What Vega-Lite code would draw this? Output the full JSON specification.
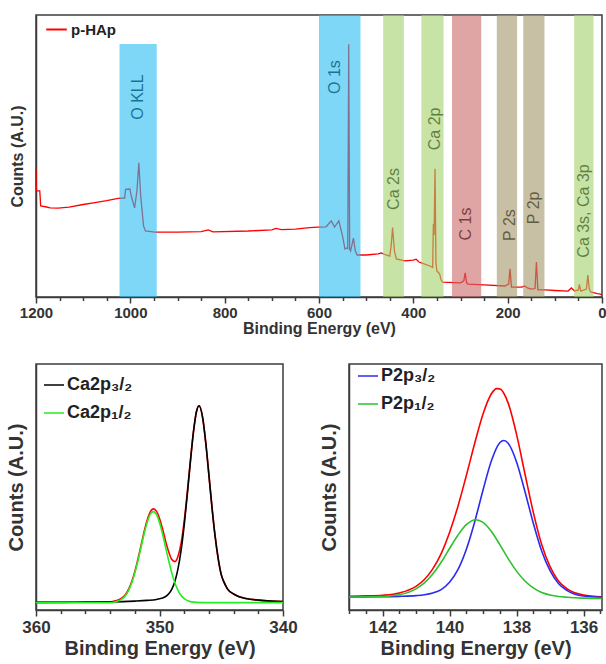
{
  "$schema": "https://vega.github.io/schema/vega-lite/v6.json",
  "background": "white",
  "padding": {"left": 5, "top": 14, "right": 0, "bottom": 0},
  "spacing": 26,
  "resolve": {"scale": {"stroke": "independent", "fill": "independent"}, "legend": {"stroke": "independent", "fill": "independent"}},
  "config": {
    "font": "Liberation Sans",
    "view": {"stroke": "#3c3c3c", "strokeWidth": 1.5},
    "axis": {
      "grid": false,
      "domainColor": "#3c3c3c",
      "domainWidth": 1.5,
      "tickColor": "#3c3c3c",
      "tickWidth": 1.5,
      "labelColor": "#333333",
      "titleColor": "#333333",
      "labelFont": "Liberation Sans",
      "titleFont": "Liberation Sans",
      "labelFontWeight": "bold",
      "titleFontWeight": "bold"
    }
  },
  "datasets": {
    "survey": [
      {"E": 1200, "I": 45.5}, {"E": 1199.5, "I": 38}, {"E": 1198, "I": 37.6}, {"E": 1192, "I": 37.6},
      {"E": 1190, "I": 32.3}, {"E": 1180, "I": 32.0}, {"E": 1170, "I": 31.6}, {"E": 1153, "I": 31.5},
      {"E": 1130, "I": 31.9}, {"E": 1100, "I": 32.8}, {"E": 1075, "I": 33.5}, {"E": 1050, "I": 34.2},
      {"E": 1026, "I": 35.0}, {"E": 1012, "I": 35.1}, {"E": 1010, "I": 38.2}, {"E": 1001, "I": 38.3},
      {"E": 998, "I": 35.8}, {"E": 991, "I": 31.6}, {"E": 986, "I": 37.6}, {"E": 982, "I": 47.6},
      {"E": 978, "I": 35.8}, {"E": 972, "I": 25.2}, {"E": 968, "I": 23.4}, {"E": 948, "I": 23.0},
      {"E": 900, "I": 23.0}, {"E": 850, "I": 23.2}, {"E": 835, "I": 23.8}, {"E": 825, "I": 23.1},
      {"E": 750, "I": 23.4}, {"E": 700, "I": 23.8}, {"E": 691, "I": 24.3}, {"E": 680, "I": 23.9},
      {"E": 650, "I": 24.1}, {"E": 620, "I": 24.6}, {"E": 602, "I": 24.8}, {"E": 585, "I": 24.9},
      {"E": 574, "I": 27.0}, {"E": 567, "I": 24.8}, {"E": 558, "I": 27.0}, {"E": 550, "I": 21.6},
      {"E": 545, "I": 17.0}, {"E": 541, "I": 17.4}, {"E": 539, "I": 17.2}, {"E": 537, "I": 89.6},
      {"E": 535, "I": 17.0}, {"E": 533, "I": 16.3}, {"E": 527, "I": 20.9}, {"E": 523, "I": 16.3},
      {"E": 519, "I": 14.9}, {"E": 500, "I": 14.9}, {"E": 475, "I": 15.3}, {"E": 468, "I": 15.6},
      {"E": 458, "I": 14.9}, {"E": 450, "I": 14.5}, {"E": 447, "I": 18.1}, {"E": 444, "I": 24.6},
      {"E": 440, "I": 16.3}, {"E": 436, "I": 13.5}, {"E": 418, "I": 12.8}, {"E": 400, "I": 13.1},
      {"E": 394, "I": 13.4}, {"E": 388, "I": 12.4}, {"E": 383, "I": 12.1}, {"E": 365, "I": 11.0},
      {"E": 359, "I": 10.5}, {"E": 357.5, "I": 26.0}, {"E": 356, "I": 22.0}, {"E": 354, "I": 45.5},
      {"E": 352, "I": 12.0}, {"E": 350, "I": 9.2}, {"E": 346, "I": 8.5}, {"E": 344, "I": 8.0},
      {"E": 341, "I": 6.0}, {"E": 338, "I": 5.3}, {"E": 300, "I": 5.0}, {"E": 293, "I": 5.7},
      {"E": 290, "I": 8.6}, {"E": 287, "I": 5.0}, {"E": 284, "I": 4.6}, {"E": 250, "I": 4.3},
      {"E": 206, "I": 3.9}, {"E": 198, "I": 4.6}, {"E": 195, "I": 10.0}, {"E": 192, "I": 3.5},
      {"E": 170, "I": 3.5}, {"E": 164, "I": 3.9}, {"E": 158, "I": 3.2}, {"E": 150, "I": 2.8},
      {"E": 142, "I": 3.0}, {"E": 139, "I": 12.4}, {"E": 136, "I": 2.5}, {"E": 120, "I": 2.5},
      {"E": 100, "I": 2.3}, {"E": 72, "I": 2.1}, {"E": 65, "I": 3.2}, {"E": 58, "I": 2.1},
      {"E": 50, "I": 2.5}, {"E": 48, "I": 4.5}, {"E": 45, "I": 2.1}, {"E": 33, "I": 2.8},
      {"E": 30, "I": 7.8}, {"E": 27, "I": 2.8}, {"E": 24, "I": 1.8}, {"E": 10, "I": 1.2},
      {"E": 5, "I": 1.1}, {"E": 0, "I": 0.7}
    ],
    "bands": [
      {"label": "O KLL", "g": "O", "x1": 1023, "x2": 944, "top": 89.7, "lx": 984, "ly": 70.9},
      {"label": "O 1s", "g": "O", "x1": 600, "x2": 512, "top": 100, "lx": 567, "ly": 78.0},
      {"label": "Ca 2s", "g": "Ca", "x1": 464, "x2": 420, "top": 100, "lx": 440, "ly": 38.3},
      {"label": "Ca 2p", "g": "Ca", "x1": 383, "x2": 336, "top": 100, "lx": 355, "ly": 59.6},
      {"label": "C 1s", "g": "C", "x1": 318, "x2": 256, "top": 100, "lx": 288, "ly": 25.9},
      {"label": "P 2s", "g": "P", "x1": 223, "x2": 180, "top": 100, "lx": 196, "ly": 25.5},
      {"label": "P 2p", "g": "P", "x1": 167, "x2": 122, "top": 100, "lx": 145, "ly": 31.6},
      {"label": "Ca 3s, Ca 3p", "g": "Ca", "x1": 59, "x2": 18, "top": 100, "lx": 38, "ly": 30.5}
    ],
    "ca_red": [
      {"x": 360, "y": 3.1}, {"x": 356, "y": 3.2}, {"x": 354, "y": 3.3}, {"x": 353.5, "y": 3.85},
      {"x": 353, "y": 5.0}, {"x": 352.75, "y": 6.35}, {"x": 352.5, "y": 8.5}, {"x": 352.25, "y": 11.5},
      {"x": 352, "y": 15.6}, {"x": 351.75, "y": 20.55}, {"x": 351.5, "y": 26.1}, {"x": 351.25, "y": 31.7},
      {"x": 351, "y": 36.5}, {"x": 350.75, "y": 39.9}, {"x": 350.5, "y": 41.1}, {"x": 350.25, "y": 40.2},
      {"x": 350, "y": 37.2}, {"x": 349.75, "y": 32.9}, {"x": 349.5, "y": 27.9}, {"x": 349.25, "y": 23.6},
      {"x": 349, "y": 20.5}, {"x": 348.75, "y": 19.65}, {"x": 348.5, "y": 21.8}, {"x": 348.25, "y": 27.2},
      {"x": 348, "y": 36.1}, {"x": 347.75, "y": 47.8}, {"x": 347.5, "y": 60.6}, {"x": 347.25, "y": 72.5},
      {"x": 347, "y": 80.8}, {"x": 346.8, "y": 83}, {"x": 346.5, "y": 78}, {"x": 346.25, "y": 67.8},
      {"x": 346, "y": 54.9}, {"x": 345.75, "y": 41.7}, {"x": 345.5, "y": 30.1}, {"x": 345.25, "y": 21.0},
      {"x": 345, "y": 14.4}, {"x": 344.75, "y": 11}, {"x": 344.5, "y": 8.6}, {"x": 344, "y": 6.5},
      {"x": 343.5, "y": 5.3}, {"x": 343, "y": 4.7}, {"x": 342, "y": 4.0}, {"x": 341, "y": 3.6}, {"x": 340, "y": 3.4}
    ],
    "ca_32": [
      {"x": 360, "y": 3.1}, {"x": 358, "y": 3.1}, {"x": 356, "y": 3.2}, {"x": 354, "y": 3.3},
      {"x": 353, "y": 3.4}, {"x": 352, "y": 3.6}, {"x": 351, "y": 3.9}, {"x": 350.25, "y": 4.3},
      {"x": 350, "y": 4.6}, {"x": 349.75, "y": 4.9}, {"x": 349.5, "y": 5.5}, {"x": 349.25, "y": 6.6},
      {"x": 349, "y": 8.5}, {"x": 348.75, "y": 11.7}, {"x": 348.5, "y": 16.8}, {"x": 348.25, "y": 24.3},
      {"x": 348, "y": 34.5}, {"x": 347.75, "y": 46.9}, {"x": 347.5, "y": 60.2}, {"x": 347.25, "y": 72.4},
      {"x": 347, "y": 80.8}, {"x": 346.8, "y": 83}, {"x": 346.5, "y": 78}, {"x": 346.25, "y": 67.8},
      {"x": 346, "y": 54.9}, {"x": 345.75, "y": 41.7}, {"x": 345.5, "y": 30.1}, {"x": 345.25, "y": 21.0},
      {"x": 345, "y": 14.4}, {"x": 344.75, "y": 11}, {"x": 344.5, "y": 8.6}, {"x": 344, "y": 6.5},
      {"x": 343.5, "y": 5.3}, {"x": 343, "y": 4.7}, {"x": 342, "y": 4.0}, {"x": 341, "y": 3.6}, {"x": 340, "y": 3.4}
    ],
    "ca_12": [
      {"x": 360, "y": 3.0}, {"x": 354, "y": 3.0}, {"x": 353.5, "y": 3.4}, {"x": 353, "y": 4.6},
      {"x": 352.75, "y": 5.9}, {"x": 352.5, "y": 8.0}, {"x": 352.25, "y": 10.95}, {"x": 352, "y": 15.0},
      {"x": 351.75, "y": 19.9}, {"x": 351.5, "y": 25.4}, {"x": 351.25, "y": 30.9}, {"x": 351, "y": 35.6},
      {"x": 350.75, "y": 38.9}, {"x": 350.5, "y": 40.0}, {"x": 350.25, "y": 38.9}, {"x": 350, "y": 35.6},
      {"x": 349.75, "y": 30.9}, {"x": 349.5, "y": 25.4}, {"x": 349.25, "y": 19.9}, {"x": 349, "y": 15.0},
      {"x": 348.75, "y": 10.95}, {"x": 348.5, "y": 8.0}, {"x": 348.25, "y": 5.9}, {"x": 348, "y": 4.6},
      {"x": 347.5, "y": 3.4}, {"x": 347, "y": 3.1}, {"x": 346, "y": 3.0}, {"x": 340, "y": 3.0}
    ],
    "p_red": [
      {"x": 143, "y": 5.6}, {"x": 142.5, "y": 5.73}, {"x": 142, "y": 6.0}, {"x": 141.5, "y": 6.9},
      {"x": 141, "y": 9.6}, {"x": 140.75, "y": 12.4}, {"x": 140.5, "y": 16.7}, {"x": 140.25, "y": 22.9},
      {"x": 140, "y": 31.5}, {"x": 139.75, "y": 42.1}, {"x": 139.5, "y": 54.6}, {"x": 139.25, "y": 67.7},
      {"x": 139, "y": 79.7}, {"x": 138.75, "y": 87.9}, {"x": 138.6, "y": 90.0}, {"x": 138.5, "y": 89.9},
      {"x": 138.25, "y": 84.1}, {"x": 138, "y": 71.4}, {"x": 137.75, "y": 55.4}, {"x": 137.5, "y": 39.7},
      {"x": 137.25, "y": 26.6}, {"x": 137, "y": 17.6}, {"x": 136.75, "y": 11.8}, {"x": 136.5, "y": 8.7},
      {"x": 136, "y": 6.1}, {"x": 135.45, "y": 5.4}
    ],
    "p_32": [
      {"x": 143, "y": 5.3}, {"x": 142.5, "y": 5.35}, {"x": 142, "y": 5.4}, {"x": 141.5, "y": 5.55},
      {"x": 141, "y": 5.85}, {"x": 140.75, "y": 6.2}, {"x": 140.5, "y": 6.9}, {"x": 140.25, "y": 8.3},
      {"x": 140, "y": 11.3}, {"x": 139.75, "y": 16.4}, {"x": 139.5, "y": 24.6}, {"x": 139.25, "y": 35.8},
      {"x": 139, "y": 48.8}, {"x": 138.75, "y": 60.7}, {"x": 138.5, "y": 68.0}, {"x": 138.38, "y": 68.9},
      {"x": 138.25, "y": 67.8}, {"x": 138, "y": 60.2}, {"x": 137.75, "y": 48.2}, {"x": 137.5, "y": 35.3},
      {"x": 137.25, "y": 24.0}, {"x": 137, "y": 16.0}, {"x": 136.75, "y": 10.8}, {"x": 136.5, "y": 8.0},
      {"x": 136, "y": 5.7}, {"x": 135.45, "y": 5.2}
    ],
    "p_12": [
      {"x": 143, "y": 5.3}, {"x": 142.5, "y": 5.34}, {"x": 142, "y": 5.5}, {"x": 141.5, "y": 6.2},
      {"x": 141, "y": 8.6}, {"x": 140.75, "y": 11.0}, {"x": 140.5, "y": 14.6}, {"x": 140.25, "y": 19.4},
      {"x": 140, "y": 25.0}, {"x": 139.75, "y": 30.4}, {"x": 139.5, "y": 34.7}, {"x": 139.21, "y": 36.7},
      {"x": 139, "y": 35.6}, {"x": 138.75, "y": 31.9}, {"x": 138.5, "y": 26.6}, {"x": 138.25, "y": 20.9},
      {"x": 138, "y": 15.8}, {"x": 137.75, "y": 11.8}, {"x": 137.5, "y": 9.0}, {"x": 137.25, "y": 7.1},
      {"x": 137, "y": 6.1}, {"x": 136.75, "y": 5.5}, {"x": 136.5, "y": 5.2}, {"x": 136, "y": 4.84},
      {"x": 135.45, "y": 4.7}
    ]
  },
  "vconcat": [
    {
      "width": 566,
      "height": 282,
      "resolve": {"axis": {"x": "independent"}},
      "layer": [
        {
          "data": {"name": "bands"},
          "mark": {"type": "text", "angle": 270, "fontSize": 16, "color": "#000000", "align": "center", "baseline": "middle", "font": "Liberation Sans"},
          "encoding": {
            "x": {
              "field": "lx", "type": "quantitative",
              "scale": {"domain": [1200, 0], "nice": false, "zero": false},
              "axis": {
                "orient": "bottom",
                "title": "Binding Energy (eV)",
                "values": [0, 200, 400, 600, 800, 1000, 1200],
                "format": "d",
                "tickSize": 6,
                "labelFontSize": 15,
                "titleFontSize": 16,
                "labelOverlap": false,
                "labelFlush": false,
                "labelPadding": 2,
                "titlePadding": 0
              }
            },
            "y": {
              "field": "ly", "type": "quantitative",
              "scale": {"domain": [0, 100], "nice": false},
              "axis": {"title": "Counts (A.U.)", "labels": false, "ticks": false, "titleFontSize": 16, "titlePadding": 11}
            },
            "text": {"field": "label", "type": "nominal"}
          }
        },
        {
          "data": {"name": "survey"},
          "mark": {"type": "line", "strokeWidth": 1.3},
          "encoding": {
            "x": {
              "field": "E", "type": "quantitative",
              "axis": {
                "orient": "bottom",
                "title": null,
                "labels": false,
                "domain": false,
                "tickSize": 3.5,
                "values": [50, 100, 150, 250, 300, 350, 450, 500, 550, 650, 700, 750, 850, 900, 950, 1050, 1100, 1150]
              }
            },
            "y": {"field": "I", "type": "quantitative"},
            "stroke": {
              "datum": "p-HAp", "type": "nominal",
              "scale": {"domain": ["p-HAp"], "range": ["#ff0000"]},
              "legend": {"title": null, "orient": "none", "legendX": 9, "legendY": 3, "symbolType": "stroke", "symbolSize": 420, "symbolStrokeWidth": 2, "labelFontSize": 15, "labelFontWeight": "bold", "labelColor": "#222222", "labelOffset": 3, "padding": 0}
            }
          }
        },
        {
          "data": {"name": "bands"},
          "mark": {"type": "rect", "opacity": 0.6},
          "encoding": {
            "x": {"field": "x1", "type": "quantitative", "axis": null},
            "x2": {"field": "x2"},
            "y": {"field": "top", "type": "quantitative"},
            "y2": {"datum": 0},
            "fill": {
              "field": "g", "type": "nominal",
              "scale": {"domain": ["O", "Ca", "C", "P"], "range": ["#2abcf2", "#a3d06b", "#ca6969", "#a39669"]},
              "legend": null
            }
          }
        }
      ]
    },
    {
      "spacing": 20,
      "resolve": {"scale": {"stroke": "independent"}, "legend": {"stroke": "independent"}},
      "hconcat": [
        {
          "width": 247,
          "height": 246,
          "resolve": {"axis": {"x": "independent"}},
          "layer": [
            {
              "data": {"name": "ca_red"},
              "mark": {"type": "line", "color": "#ff0000", "strokeWidth": 1.6, "interpolate": "monotone"},
              "encoding": {
                "x": {
                  "field": "x", "type": "quantitative",
                  "scale": {"domain": [360, 340], "nice": false, "zero": false},
                  "axis": {
                    "orient": "bottom",
                    "title": "Binding Energy (eV)",
                    "values": [340, 350, 360],
                    "format": "d",
                    "tickSize": 6,
                    "labelFontSize": 17,
                    "titleFontSize": 20,
                    "labelOverlap": false,
                    "labelFlush": false,
                    "labelPadding": 3,
                    "titlePadding": 3
                  }
                },
                "y": {
                  "field": "y", "type": "quantitative",
                  "scale": {"domain": [0, 100], "nice": false},
                  "axis": {"title": "Counts (A.U.)", "labels": false, "ticks": false, "titleFontSize": 20, "titlePadding": 10}
                }
              }
            },
            {
              "data": {"name": "ca_32"},
              "mark": {"type": "line", "strokeWidth": 1.6, "interpolate": "monotone"},
              "encoding": {
                "x": {
                  "field": "x", "type": "quantitative",
                  "axis": {"orient": "bottom", "title": null, "labels": false, "domain": false, "tickSize": 3.5, "values": [342, 344, 346, 348, 352, 354, 356, 358]}
                },
                "y": {"field": "y", "type": "quantitative"},
                "stroke": {
                  "datum": "Ca2p₃/₂", "type": "nominal",
                  "scale": {"domain": ["Ca2p₃/₂", "Ca2p₁/₂"], "range": ["#000000", "#22ee22"]},
                  "legend": {"title": null, "orient": "none", "legendX": 7, "legendY": 10, "symbolType": "stroke", "symbolSize": 400, "symbolStrokeWidth": 1.5, "labelFontSize": 18, "labelFontWeight": "bold", "labelColor": "#222222", "labelOffset": 2, "rowPadding": 8, "padding": 0}
                }
              }
            },
            {
              "data": {"name": "ca_12"},
              "mark": {"type": "line", "strokeWidth": 1.6, "interpolate": "monotone"},
              "encoding": {
                "x": {"field": "x", "type": "quantitative", "axis": null},
                "y": {"field": "y", "type": "quantitative"},
                "stroke": {"datum": "Ca2p₁/₂", "type": "nominal"}
              }
            }
          ]
        },
        {
          "width": 253,
          "height": 246,
          "resolve": {"axis": {"x": "independent"}},
          "layer": [
            {
              "data": {"name": "p_red"},
              "mark": {"type": "line", "color": "#ff0000", "strokeWidth": 1.6, "interpolate": "monotone"},
              "encoding": {
                "x": {
                  "field": "x", "type": "quantitative",
                  "scale": {"domain": [143, 135.45], "nice": false, "zero": false},
                  "axis": {
                    "orient": "bottom",
                    "title": "Binding Energy (eV)",
                    "values": [136, 138, 140, 142],
                    "format": "d",
                    "tickSize": 6,
                    "labelFontSize": 17,
                    "titleFontSize": 20,
                    "labelOverlap": false,
                    "labelFlush": false,
                    "labelPadding": 3,
                    "titlePadding": 3
                  }
                },
                "y": {
                  "field": "y", "type": "quantitative",
                  "scale": {"domain": [0, 100], "nice": false},
                  "axis": {"title": "Counts (A.U.)", "labels": false, "ticks": false, "titleFontSize": 20, "titlePadding": 10}
                }
              }
            },
            {
              "data": {"name": "p_32"},
              "mark": {"type": "line", "strokeWidth": 1.6, "interpolate": "monotone"},
              "encoding": {
                "x": {
                  "field": "x", "type": "quantitative",
                  "axis": {"orient": "bottom", "title": null, "labels": false, "domain": false, "tickSize": 3.5, "values": [135.5, 136.5, 137, 137.5, 138.5, 139, 139.5, 140.5, 141, 141.5, 142.5, 143]}
                },
                "y": {"field": "y", "type": "quantitative"},
                "stroke": {
                  "datum": "P2p₃/₂", "type": "nominal",
                  "scale": {"domain": ["P2p₃/₂", "P2p₁/₂"], "range": ["#2b2bf0", "#2fc02f"]},
                  "legend": {"title": null, "orient": "none", "legendX": 8, "legendY": 1, "symbolType": "stroke", "symbolSize": 400, "symbolStrokeWidth": 1.5, "labelFontSize": 18, "labelFontWeight": "bold", "labelColor": "#222222", "labelOffset": 2, "rowPadding": 8, "padding": 0}
                }
              }
            },
            {
              "data": {"name": "p_12"},
              "mark": {"type": "line", "strokeWidth": 1.6, "interpolate": "monotone"},
              "encoding": {
                "x": {"field": "x", "type": "quantitative", "axis": null},
                "y": {"field": "y", "type": "quantitative"},
                "stroke": {"datum": "P2p₁/₂", "type": "nominal"}
              }
            }
          ]
        }
      ]
    }
  ]
}
